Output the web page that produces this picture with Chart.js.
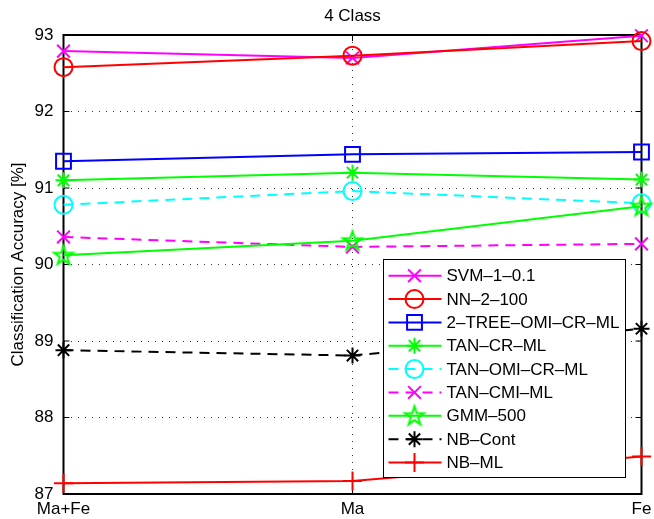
<!DOCTYPE html>
<html>
<head>
<meta charset="utf-8">
<script src="https://cdn.jsdelivr.net/npm/chart.js@4.4.1/dist/chart.umd.min.js"></script>
<style>
  body { margin: 0; background: #fff; }
  canvas { display: block; }
</style>
</head>
<body>
<canvas id="chart" width="654" height="519"></canvas>
<script>
// Dados
const categories = ['Ma+Fe', 'Ma', 'Fe'];
const yTicks = [87, 88, 89, 90, 91, 92, 93];

const seriesNames = [
  'SVM\u20131\u20130.1',
  'NN\u20132\u2013100',
  '2\u2013TREE\u2013OMI\u2013CR\u2013ML',
  'TAN\u2013CR\u2013ML',
  'TAN\u2013OMI\u2013CR\u2013ML',
  'TAN\u2013CMI\u2013ML',
  'GMM\u2013500',
  'NB\u2013Cont',
  'NB\u2013ML'
];

const svm      = [92.79, 92.70, 92.99];
const nn       = [92.58, 92.73, 92.92];
const tree     = [91.35, 91.44, 91.47];
const tanCr    = [91.10, 91.20, 91.11];
const tanOmiCr = [90.78, 90.96, 90.80];
const tanCmi   = [90.36, 90.23, 90.27];
const gmm      = [90.12, 90.31, 90.76];
const nbCont   = [88.88, 88.81, 89.16];
const nbMl     = [87.14, 87.17, 87.49];

const FONT = "'Liberation Sans', Arial, Helvetica, sans-serif";
Chart.defaults.font.family = FONT;
Chart.defaults.color = '#000';

// Pentagrama estilo MATLAB (não existe no Chart.js)
function makePentagram(color) {
  const c = document.createElement('canvas');
  c.width = 26; c.height = 26;
  const g = c.getContext('2d');
  const R = 10, r = R * 0.382;
  g.beginPath();
  for (let k = 0; k < 10; k++) {
    const rad = (k % 2 === 0) ? R : r;
    const a = -Math.PI / 2 + k * Math.PI / 5;
    const px = 13 + rad * Math.cos(a), py = 13.5 + rad * Math.sin(a);
    if (k === 0) g.moveTo(px, py); else g.lineTo(px, py);
  }
  g.closePath();
  g.strokeStyle = color;
  g.lineWidth = 2;
  g.stroke();
  return c;
}

const DASH = [10, 7];
const styles = [
  { color: '#ff00ff', point: 'crossRot', radius: 9, dash: [] },
  { color: '#ff0000', point: 'circle', radius: 9, dash: [] },
  { color: '#0000ff', point: 'rect', radius: 10.5, dash: [] },
  { color: '#00ff00', point: 'star', radius: 8, dash: [] },
  { color: '#00ffff', point: 'circle', radius: 9, dash: DASH },
  { color: '#ff00ff', point: 'crossRot', radius: 9, dash: DASH },
  { color: '#00ff00', point: makePentagram('#00ff00'), radius: 10, dash: [] },
  { color: '#000000', point: 'star', radius: 8, dash: DASH },
  { color: '#ff0000', point: 'cross', radius: 9.5, dash: [] }
];
const seriesData = [svm, nn, tree, tanCr, tanOmiCr, tanCmi, gmm, nbCont, nbMl];

const datasets = seriesData.map((d, i) => ({
  label: seriesNames[i],
  data: d,
  borderColor: styles[i].color,
  backgroundColor: 'rgba(0,0,0,0)',
  borderWidth: 2,
  borderDash: styles[i].dash,
  pointStyle: styles[i].point,
  pointRadius: styles[i].radius,
  pointBorderWidth: 2,
  pointBorderColor: styles[i].color,
  pointBackgroundColor: 'rgba(0,0,0,0)',
  tension: 0,
  clip: false,
  order: -i // o último fica por cima, como no MATLAB
}));

// Moldura + ticks para dentro
const framePlugin = {
  id: 'frame',
  beforeDatasetsDraw(chart) {
    const { ctx, chartArea: a, scales } = chart;
    ctx.save();
    ctx.strokeStyle = '#000';
    ctx.lineWidth = 2;
    ctx.setLineDash([]);
    ctx.strokeRect(a.left, a.top, a.right - a.left, a.bottom - a.top);
    ctx.lineWidth = 1;
    const tl = 6;
    ctx.beginPath();
    yTicks.forEach(v => {
      const y = scales.y.getPixelForValue(v);
      ctx.moveTo(a.left, y); ctx.lineTo(a.left + tl, y);
      ctx.moveTo(a.right, y); ctx.lineTo(a.right - tl, y);
    });
    categories.forEach((c, i) => {
      const x = scales.x.getPixelForValue(i);
      ctx.moveTo(x, a.bottom); ctx.lineTo(x, a.bottom - tl);
      ctx.moveTo(x, a.top); ctx.lineTo(x, a.top + tl);
    });
    ctx.stroke();
    ctx.restore();
  }
};

// Legenda dentro do gráfico (canto inferior direito)
const insideLegend = {
  id: 'insideLegend',
  afterDatasetsDraw(chart) {
    const { ctx } = chart;
    const box = { left: 383.5, top: 259.5, right: 625.5, bottom: 477.5 };
    ctx.save();
    ctx.setLineDash([]);
    ctx.fillStyle = '#fff';
    ctx.fillRect(box.left, box.top, box.right - box.left, box.bottom - box.top);
    ctx.strokeStyle = '#000';
    ctx.lineWidth = 1;
    ctx.strokeRect(box.left, box.top, box.right - box.left, box.bottom - box.top);

    chart.data.datasets.forEach((ds, i) => {
      const y = box.top + 16.2 + i * 23.35;
      ctx.strokeStyle = ds.borderColor;
      ctx.lineWidth = 2;
      ctx.setLineDash(ds.borderDash);
      ctx.beginPath();
      ctx.moveTo(box.left + 5, y);
      ctx.lineTo(box.left + 58, y);
      ctx.stroke();
      ctx.setLineDash([]);
      ctx.fillStyle = 'rgba(0,0,0,0)';
      Chart.helpers.drawPoint(ctx, {
        pointStyle: ds.pointStyle, radius: ds.pointRadius, rotation: 0, borderWidth: 2
      }, box.left + 31, y);
      ctx.fillStyle = '#000';
      ctx.font = '17px ' + FONT;
      ctx.textAlign = 'left';
      ctx.textBaseline = 'middle';
      ctx.fillText(ds.label, box.left + 63, y + 1);
    });
    ctx.restore();
  }
};

const gridDash = [1, 6];
new Chart(document.getElementById('chart'), {
  type: 'line',
  data: { labels: categories, datasets },
  options: {
    responsive: false,
    animation: false,
    devicePixelRatio: 1,
    layout: { padding: { top: 0, right: 9, bottom: 0, left: 0 } },
    scales: {
      x: {
        type: 'category',
        offset: false,
        grid: { color: '#333', lineWidth: 1, drawTicks: false },
        border: { display: false, dash: gridDash },
        ticks: { font: { size: 17 }, color: '#000', padding: 5, maxRotation: 0, autoSkip: false },
        afterFit(s) { s.height = 25; s.paddingLeft = 0; s.paddingRight = 0; }
      },
      y: {
        min: 87,
        max: 93,
        grid: { color: '#333', lineWidth: 1, drawTicks: false },
        border: { display: false, dash: gridDash },
        afterBuildTicks(s) { s.ticks = yTicks.map(v => ({ value: v })); },
        ticks: { font: { size: 17 }, color: '#000', padding: 10 },
        title: {
          display: true,
          text: 'Classification Accuracy [%]',
          font: { size: 17 },
          color: '#000',
          padding: { top: 8, bottom: 0 }
        },
        afterFit(s) { s.width = 63.5; s.paddingTop = 0; s.paddingBottom = 0; }
      }
    },
    plugins: {
      legend: { display: false },
      tooltip: { enabled: false },
      title: {
        display: true,
        text: '4 Class',
        fullSize: false,
        color: '#000',
        font: { size: 17, weight: 'normal' },
        padding: { top: 6, bottom: 8.6 }
      }
    }
  },
  plugins: [framePlugin, insideLegend]
});
</script>
</body>
</html>
